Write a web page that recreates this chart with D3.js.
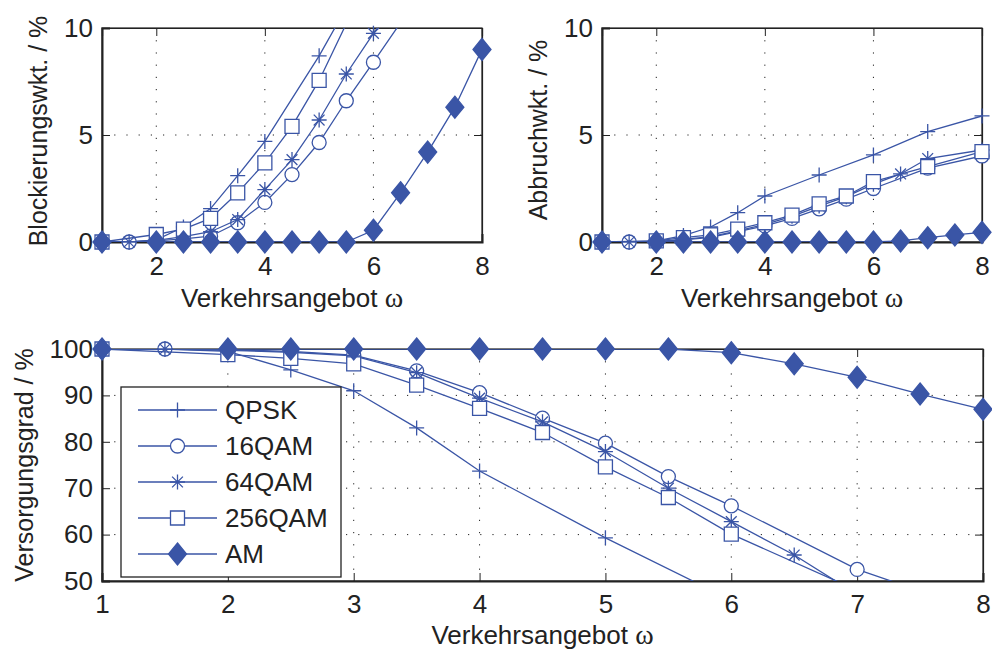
<!DOCTYPE html>
<html>
<head>
<meta charset="utf-8">
<script src="https://cdn.jsdelivr.net/npm/d3@7"></script>
<style>
  body { margin: 0; background: #fff; }
  svg { display: block; }
  text { font-family: "Liberation Sans", Arial, sans-serif; fill: #222; }
</style>
</head>
<body>
<div id="chart"></div>
<script>
// series names + marker types
const seriesNames = ["QPSK", "16QAM", "64QAM", "256QAM", "AM"];
const markerTypes = ["plus", "circle", "star", "square", "diamond"];

// x values (offered traffic) per series
const xQPSK = [1, 1.5, 2, 2.5, 3, 3.5, 4, 5, 6, 7, 8];
const x16QAM = [1, 1.5, 2, 2.5, 3, 3.5, 4, 4.5, 5, 5.5, 6, 7, 8];
const x64QAM = [1, 1.5, 2, 2.5, 3, 3.5, 4, 4.5, 5, 5.5, 6, 6.5, 7, 8];
const x256QAM = [1, 2, 2.5, 3, 3.5, 4, 4.5, 5, 5.5, 6, 7, 8];
const xAM = [1, 2, 2.5, 3, 3.5, 4, 4.5, 5, 5.5, 6, 6.5, 7, 7.5, 8];

// Blockierungswahrscheinlichkeit / %
const blockQPSK = [0, 0, 0.1, 0.7, 1.56, 3.1, 4.7, 8.7, 13.2, 17, 20];
const block16QAM = [0, 0, 0.05, 0.15, 0.27, 0.9, 1.85, 3.15, 4.65, 6.6, 8.4, 12.1, 15];
const block64QAM = [0, 0, 0.08, 0.25, 0.48, 1.05, 2.45, 3.85, 5.7, 7.85, 9.75, 11.5, 13, 16];
const block256QAM = [0, 0.35, 0.6, 1.1, 2.3, 3.7, 5.4, 7.55, 10.2, 12.5, 16, 19];
const blockAM = [0, 0, 0, 0, 0, 0, 0, 0, 0, 0.55, 2.3, 4.2, 6.3, 9.0];

// Abbruchwahrscheinlichkeit / %
const abortQPSK = [0, 0, 0.05, 0.3, 0.7, 1.37, 2.15, 3.13, 4.07, 5.16, 5.89];
const abort16QAM = [0, 0, 0.02, 0.1, 0.22, 0.48, 0.75, 1.1, 1.55, 2.0, 2.5, 3.45, 4.02];
const abort64QAM = [0, 0, 0.02, 0.12, 0.25, 0.52, 0.82, 1.2, 1.68, 2.12, 2.7, 3.18, 3.9, 4.3];
const abort256QAM = [0, 0.05, 0.2, 0.33, 0.6, 0.9, 1.26, 1.78, 2.15, 2.82, 3.52, 4.22];
const abortAM = [0, 0, 0, 0, 0, 0, 0, 0, 0, 0, 0.05, 0.2, 0.33, 0.45];

// Versorgungsgrad / %
const coverQPSK = [100, 100, 99.5, 95.5, 91, 83, 73.7, 59.3, 45.9, 35, 27];
const cover16QAM = [100, 100, 99.8, 99.5, 98.7, 95.3, 90.6, 85.1, 79.7, 72.5, 66.2, 52.5, 43.2];
const cover64QAM = [100, 100, 99.7, 99.3, 98.5, 94.9, 89.4, 84.3, 77.9, 70.0, 62.8, 55.6, 47.1, 38];
const cover256QAM = [100, 98.8, 98.0, 96.8, 92.2, 87.2, 82.0, 74.6, 68.0, 60.1, 48.0, 38];
const coverAM = [100, 100, 100, 100, 100, 100, 100, 100, 100, 99.2, 96.8, 93.9, 90.3, 87.0];

const xTicksTop = [2, 4, 6, 8];
const yTicksTop = [0, 5, 10];
const xTicksBottom = [1, 2, 3, 4, 5, 6, 7, 8];
const yTicksBottom = [50, 60, 70, 80, 90, 100];

const xs = [xQPSK, x16QAM, x64QAM, x256QAM, xAM];
const zipSeries = ys => ys.map((vals, i) => ({
  name: seriesNames[i],
  marker: markerTypes[i],
  values: vals.map((v, j) => ({ x: xs[i][j], y: v }))
}));

const blue = "#3a55a6";
const width = 992, height = 652;

const markerPath = {
  plus: "M-7.5,0H7.5M0,-7.5V7.5",
  circle: "M7,0A7,7 0 1,1 -7,0A7,7 0 1,1 7,0Z",
  star: "M-7.5,0H7.5M0,-7.5V7.5M-5.4,-5.4L5.4,5.4M-5.4,5.4L5.4,-5.4",
  square: "M-7,-7H7V7H-7Z",
  diamond: "M0,-11L9,0L0,11L-9,0Z"
};

const svg = d3.select("#chart").append("svg")
  .attr("width", width)
  .attr("height", height);

function drawMarker(sel, type) {
  sel.append("path")
    .attr("d", markerPath[type])
    .attr("fill", type === "diamond" ? blue : (type === "plus" || type === "star" ? "none" : "#fff"))
    .attr("stroke", blue)
    .attr("stroke-width", 1.3);
}

let clipId = 0;
function panel(p) {
  const x = d3.scaleLinear().domain([1, 8]).range([p.left, p.right]);
  const y = d3.scaleLinear().domain(p.yDomain).range([p.bottom, p.top]);
  const g = svg.append("g");

  // grid
  g.append("g").selectAll("line").data(p.xTicks.filter(t => t > 1 && t < 8)).enter().append("line")
    .attr("x1", d => x(d)).attr("x2", d => x(d))
    .attr("y1", p.top).attr("y2", p.bottom)
    .attr("stroke", "#222").attr("stroke-width", 1).attr("stroke-dasharray", "1.2,11");
  g.append("g").selectAll("line").data(p.yTicks.filter(t => t > p.yDomain[0] && t < p.yDomain[1])).enter().append("line")
    .attr("x1", p.left).attr("x2", p.right)
    .attr("y1", d => y(d)).attr("y2", d => y(d))
    .attr("stroke", "#222").attr("stroke-width", 1).attr("stroke-dasharray", "1.2,11");

  // box + axes
  g.append("rect")
    .attr("x", p.left).attr("y", p.top)
    .attr("width", p.right - p.left).attr("height", p.bottom - p.top)
    .attr("fill", "none").attr("stroke", "#222").attr("stroke-width", 1.2);

  const xAxis = g.append("g")
    .attr("transform", `translate(0,${p.bottom})`)
    .call(d3.axisBottom(x).tickValues(p.xTicks).tickSize(-8).tickPadding(p.xPad).tickFormat(d3.format("d")));
  const yAxis = g.append("g")
    .attr("transform", `translate(${p.left},0)`)
    .call(d3.axisLeft(y).tickValues(p.yTicks).tickSize(-8).tickPadding(9).tickFormat(d3.format("d")));
  g.append("g")
    .attr("transform", `translate(0,${p.top})`)
    .call(d3.axisTop(x).tickValues(p.xTicks).tickSize(-8).tickFormat(""));
  g.append("g")
    .attr("transform", `translate(${p.right},0)`)
    .call(d3.axisRight(y).tickValues(p.yTicks).tickSize(-8).tickFormat(""));

  g.selectAll(".domain").attr("stroke", "#222").attr("stroke-width", 1.2);
  xAxis.select(".domain").attr("stroke-width", 2);
  yAxis.select(".domain").attr("stroke-width", 2);
  g.selectAll(".tick line").attr("stroke", "#222");
  g.selectAll(".tick text")
    .style("font-family", "'Liberation Sans', Arial, sans-serif")
    .style("font-size", "26px").attr("fill", "#222");

  // labels
  const xl = g.append("text")
    .attr("x", (p.left + p.right) / 2)
    .attr("y", p.xLabelY)
    .attr("text-anchor", "middle")
    .style("font-size", "26px");
  xl.append("tspan").text("Verkehrsangebot ");
  xl.append("tspan").style("font-family", "'Liberation Serif', serif").style("font-size", "28px").text("ω");

  g.append("text")
    .attr("transform", `translate(${p.yLabelX},${p.yLabelY}) rotate(-90)`)
    .attr("text-anchor", "middle")
    .style("font-size", "25px")
    .text(p.yLabel);

  // data
  clipId++;
  svg.append("clipPath").attr("id", "clip" + clipId)
    .append("rect")
    .attr("x", p.left).attr("y", p.top)
    .attr("width", p.right - p.left).attr("height", p.bottom - p.top);

  const line = d3.line().x(d => x(d.x)).y(d => y(d.y));
  const series = zipSeries(p.data);

  series.forEach(s => {
    g.append("path")
      .datum(s.values)
      .attr("clip-path", `url(#clip${clipId})`)
      .attr("fill", "none")
      .attr("stroke", blue)
      .attr("stroke-width", 1.3)
      .attr("d", line);
    const pts = s.values.filter(d => d.y >= p.yDomain[0] && d.y <= p.yDomain[1]);
    g.selectAll(null).data(pts).enter().append("g")
      .attr("transform", d => `translate(${x(d.x)},${y(d.y)})`)
      .each(function () { drawMarker(d3.select(this), s.marker); });
  });

  return g;
}

panel({
  left: 102, right: 482, top: 28, bottom: 242,
  yDomain: [0, 10], xTicks: xTicksTop, yTicks: yTicksTop, xPad: 15,
  xLabelY: 307, yLabelX: 47, yLabelY: 131,
  yLabel: "Blockierungswkt. / %",
  data: [blockQPSK, block16QAM, block64QAM, block256QAM, blockAM]
});

panel({
  left: 602, right: 982, top: 28, bottom: 242,
  yDomain: [0, 10], xTicks: xTicksTop, yTicks: yTicksTop, xPad: 15,
  xLabelY: 307, yLabelX: 547, yLabelY: 130,
  yLabel: "Abbruchwkt. / %",
  data: [abortQPSK, abort16QAM, abort64QAM, abort256QAM, abortAM]
});

panel({
  left: 102, right: 983, top: 349, bottom: 581,
  yDomain: [50, 100], xTicks: xTicksBottom, yTicks: yTicksBottom, xPad: 14,
  xLabelY: 644, yLabelX: 33, yLabelY: 465,
  yLabel: "Versorgungsgrad / %",
  data: [coverQPSK, cover16QAM, cover64QAM, cover256QAM, coverAM]
});

// legend (bottom panel)
const legend = svg.append("g");
legend.append("rect")
  .attr("x", 121).attr("y", 387).attr("width", 220).attr("height", 190)
  .attr("fill", "#fff").attr("stroke", "#222").attr("stroke-width", 1.3);

const items = legend.selectAll(".item")
  .data(seriesNames)
  .enter().append("g")
  .attr("class", "item")
  .attr("transform", (d, i) => `translate(0,${410 + i * 36})`);
items.append("line")
  .attr("x1", 138).attr("x2", 217)
  .attr("stroke", blue).attr("stroke-width", 1.3);
items.append("g")
  .attr("transform", "translate(177.5,0)")
  .each(function (d, i) { drawMarker(d3.select(this), markerTypes[i]); });
items.append("text")
  .attr("x", 225).attr("dy", "0.36em")
  .style("font-size", "26px")
  .text(d => d);
</script>
</body>
</html>
